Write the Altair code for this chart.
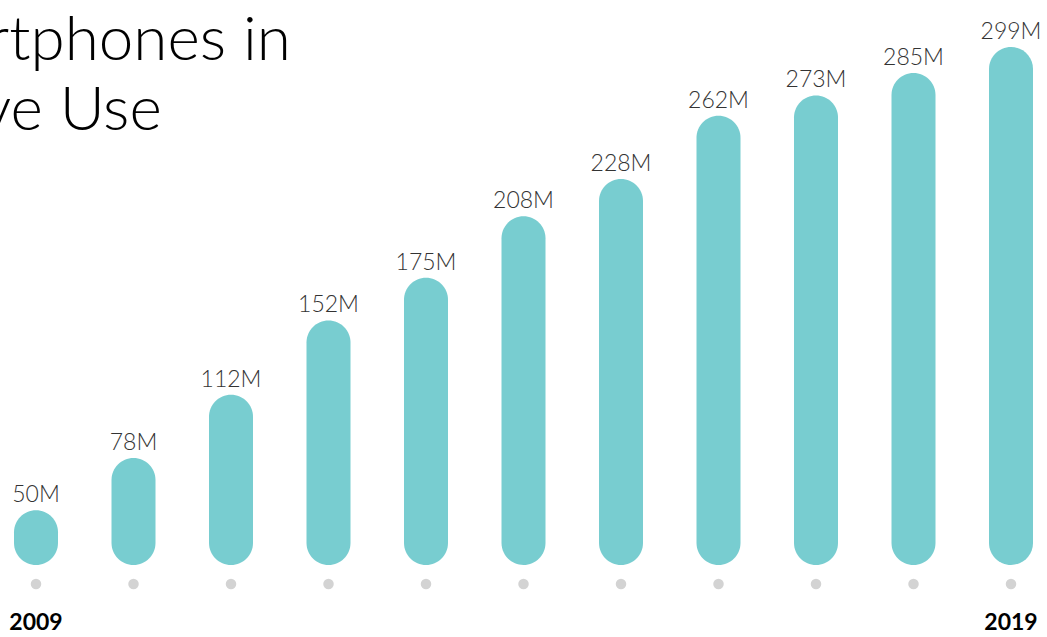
import altair as alt
import pandas as pd

years = [2009, 2010, 2011, 2012, 2013, 2014, 2015, 2016, 2017, 2018, 2019]
values = [50, 78, 112, 152, 175, 208, 228, 262, 273, 285, 299]
labels = ["50M", "78M", "112M", "152M", "175M", "208M", "228M", "262M", "273M", "285M", "299M"]
title_lines = ["Smartphones in", "Active Use"]

df = pd.DataFrame({"year": years, "value": values, "label": labels})

FONT = "Lato"
BASE = 20.5

x = alt.X("year:Q", scale=alt.Scale(domain=[2009, 2019], range=[36, 1011], padding=0, nice=False, zero=False), axis=None)
yscale = alt.Scale(domain=[BASE, 304.4], range=[565, 37], zero=False, nice=False)

base = alt.Chart(df)

bars = base.mark_bar(size=44, cornerRadius=22, color="#78CDD0").encode(
    x=x,
    y=alt.Y("value:Q", scale=yscale, axis=None),
    y2=alt.datum(BASE),
)

vals = base.mark_text(
    font=FONT, fontSize=23, fontWeight=300, color="#333333",
    baseline="alphabetic", dy=-8,
).encode(x=x, y=alt.Y("value:Q", scale=yscale, axis=None), text="label:N")

dots = base.mark_circle(size=110, color="#D3D3D3", opacity=1).encode(
    x=x, y=alt.value(584)
)

yrs = base.transform_filter(
    alt.FieldOneOfPredicate(field="year", oneOf=[2009, 2019])
).mark_text(
    font=FONT, fontSize=23, fontWeight="bold", color="#000000", baseline="alphabetic"
).encode(x=x, y=alt.value(630), text="year:N")

title = alt.Chart(pd.DataFrame({"t": [0]})).mark_text(
    font=FONT, fontSize=62, fontWeight=300, color="#000000",
    align="left", baseline="alphabetic", lineHeight=70,
).encode(x=alt.value(-125), y=alt.value(60), text=alt.value(title_lines))

chart = alt.layer(bars, vals, dots, yrs, title).properties(
    width=1047, height=637,
    autosize=alt.AutoSizeParams(type="none"),
    padding=0,
).configure_view(stroke=None)

chart.save("out.html", embed_options={"renderer": "svg", "actions": False})
